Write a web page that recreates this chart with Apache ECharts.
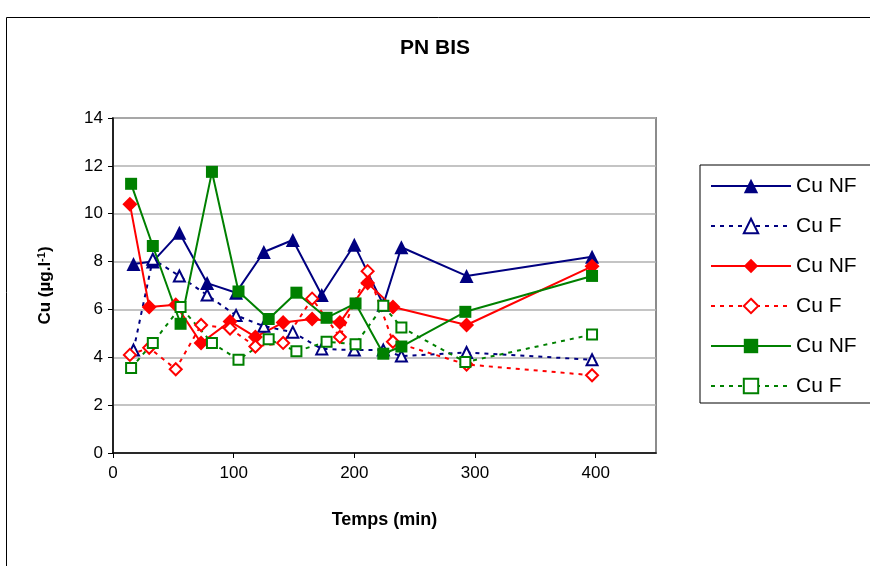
<!DOCTYPE html>
<html>
<head>
<meta charset="utf-8">
<script src="https://cdn.jsdelivr.net/npm/echarts@6/dist/echarts.min.js"></script>
<style>
  html, body { margin: 0; padding: 0; background: #fff; }
  #chart { width: 870px; height: 566px; }
</style>
</head>
<body>
<div id="chart"></div>
<script>
// temps (min) de chaque série
const blueT  = [17, 33, 55, 78, 102, 125, 149, 173, 200, 224, 239, 293, 397]
const redT   = [14, 30, 52, 73, 97, 118, 141, 165, 188, 211, 232, 293, 397]
const greenT = [15, 33, 56, 82, 104, 129, 152, 177, 201, 224, 239, 292, 397]

// Cu (µg/l)
const blueNF  = [7.9, 8.0, 9.2, 7.1, 6.7, 8.4, 8.9, 6.6, 8.7, 6.2, 8.6, 7.4, 8.2]
const blueF   = [4.3, 8.1, 7.4, 6.6, 5.75, 5.3, 5.05, 4.35, 4.3, 4.3, 4.05, 4.2, 3.9]
const redNF   = [10.4, 6.1, 6.2, 4.6, 5.5, 4.85, 5.45, 5.6, 5.45, 7.1, 6.1, 5.35, 7.8]
const redF    = [4.1, 4.4, 3.5, 5.35, 5.2, 4.45, 4.6, 6.45, 4.85, 7.6, 4.65, 3.7, 3.25]
const greenNF = [11.25, 8.65, 5.4, 11.75, 6.75, 5.6, 6.7, 5.65, 6.25, 4.15, 4.45, 5.9, 7.4]
const greenF  = [3.55, 4.6, 6.1, 4.6, 3.9, 4.75, 4.25, 4.65, 4.55, 6.15, 5.25, 3.8, 4.95]

const legendLabels = ['Cu NF', 'Cu F', 'Cu NF', 'Cu F', 'Cu NF', 'Cu F']
const xTicks = [0, 100, 200, 300, 400]

const pairs = (t, v) => t.map((x, i) => [x, v[i]])

function serie(name, color, t, v, symbol, size, dashed) {
    return {
        name: name,
        type: 'line',
        data: pairs(t, v),
        symbol: symbol,
        symbolSize: size,
        color: color,
        itemStyle: { color: color, borderColor: color, borderWidth: dashed ? 1.5 : 0 },
        lineStyle: { color: color, width: 2, type: dashed ? [4, 5] : 'solid' },
        animation: false
    }
}

const font = 'Arial, "Liberation Sans", sans-serif'
const chart = echarts.init(document.getElementById('chart'))
chart.setOption({
    backgroundColor: '#fff',
    textStyle: { fontFamily: font },
    title: {
        text: 'PN BIS',
        left: 'center',
        top: 33,
        textStyle: { fontFamily: font, fontSize: 21, fontWeight: 'bold', color: '#000' }
    },
    graphic: [{
        type: 'rect',
        shape: { x: 6.5, y: 17.5, width: 900, height: 600 },
        style: { fill: null, stroke: '#000', lineWidth: 1 },
        silent: true
    }],
    grid: {
        left: 113, right: 214, top: 118, bottom: 113,
        show: true, backgroundColor: '#fff',
        borderColor: '#8c8c8c', borderWidth: 2
    },
    legend: {
        orient: 'vertical',
        left: 700, top: 165,
        padding: [10, 60, 6, 10],
        itemWidth: 80, itemHeight: 18, itemGap: 18,
        borderColor: '#000', borderWidth: 1,
        backgroundColor: '#fff',
        data: ['s1', 's2', 's3', 's4', 's5', 's6'],
        formatter: n => legendLabels[Number(n.slice(1)) - 1],
        textStyle: { fontFamily: font, fontSize: 21, lineHeight: 22, color: '#000' }
    },
    xAxis: {
        type: 'value',
        min: 0, max: 450, interval: 100,
        name: 'Temps (min)',
        nameLocation: 'middle',
        nameGap: 58,
        nameTextStyle: { fontFamily: font, fontSize: 18, fontWeight: 'bold', color: '#000' },
        axisLine: { onZero: false, lineStyle: { color: '#000', width: 1.5 } },
        axisTick: { show: true, inside: false, length: 5, lineStyle: { color: '#000' } },
        axisLabel: {
            showMaxLabel: false, margin: 12,
            fontFamily: font, fontSize: 17, color: '#000',
            formatter: v => xTicks.includes(v) ? String(v) : ''
        },
        splitLine: { show: false }
    },
    yAxis: {
        type: 'value',
        min: 0, max: 14, interval: 2,
        name: 'Cu (µg.l{s|-1})',
        nameLocation: 'middle',
        nameGap: 58,
        nameRotate: 90,
        nameTextStyle: {
            fontFamily: font, fontSize: 17, fontWeight: 'bold', color: '#000',
            rich: { s: { fontFamily: font, fontSize: 11, fontWeight: 'bold', color: '#000', verticalAlign: 'top', padding: [0, 0, 8, 0] } }
        },
        axisLine: { show: true, lineStyle: { color: '#000', width: 1.5 } },
        axisTick: { show: true, inside: false, length: 5, lineStyle: { color: '#000' } },
        axisLabel: { margin: 10, fontFamily: font, fontSize: 17, color: '#000' },
        splitLine: { show: true, lineStyle: { color: '#b0b0b0', width: 1.5 } }
    },
    series: [
        serie('s1', '#000080', blueT, blueNF, 'triangle', 14, false),
        serie('s2', '#000080', blueT, blueF, 'emptyTriangle', 11, true),
        serie('s3', '#ff0000', redT, redNF, 'diamond', 15, false),
        serie('s4', '#ff0000', redT, redF, 'emptyDiamond', 12, true),
        serie('s5', '#008000', greenT, greenNF, 'rect', 12, false),
        serie('s6', '#008000', greenT, greenF, 'emptyRect', 10, true)
    ]
})
</script>
</body>
</html>
